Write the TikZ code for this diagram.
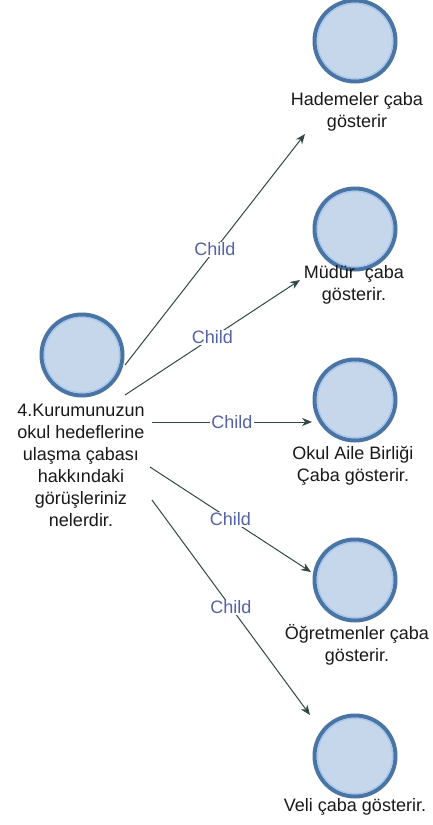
\documentclass[tikz,border=0pt]{standalone}
\usepackage{fontspec}
\setmainfont{Liberation Sans}
\usetikzlibrary{arrows.meta}
\definecolor{ringdark}{RGB}{74,116,164}
\definecolor{ringlight}{RGB}{165,199,236}
\definecolor{bubblefill}{RGB}{198,214,235}
\definecolor{edgecol}{RGB}{48,72,68}
\definecolor{labelcol}{RGB}{84,98,168}
\begin{document}
\begin{tikzpicture}[x=1pt,y=-1pt,
  bubble/.style={circle, draw=ringdark, line width=4pt, fill=bubblefill,
    minimum size=81pt, inner sep=0pt},
  innerring/.style={draw=ringlight, line width=1.2pt},
  caption/.style={align=center, font=\fontsize{18}{22}\selectfont,
    text=black!90, inner sep=0pt},
  link/.style={draw=edgecol, line width=1pt, -{Stealth[length=10pt,width=8pt]}},
  tag/.style={fill=white, text=labelcol, font=\fontsize{18}{22}\selectfont,
    inner sep=1pt}]

  % canvas
  \fill[white] (0,0) rectangle (433,825);
  \useasboundingbox (0,0) rectangle (433,825);

  % bubbles
  \node[bubble] (root) at (82,355) {};
  \node[bubble] (hade) at (355,41) {};
  \node[bubble] (mudur) at (355,229) {};
  \node[bubble] (okul) at (355,400) {};
  \node[bubble] (ogret) at (355,580) {};
  \node[bubble] (veli) at (355,756) {};
  \foreach \n in {root,hade,mudur,okul,ogret,veli}
    \draw[innerring] (\n.center) circle (37.6pt);

  % captions
  \node[caption] (roottxt) at (81,465) {4.Kurumunuzun\\okul hedeflerine\\ulaşma çabası\\hakkındaki\\görüşleriniz\\nelerdir.};
  \node[caption] (hadetxt) at (357,112) {Hademeler çaba\\gösterir};
  \node[caption] (mudurtxt) at (354,285) {Müdür\ \ çaba\\gösterir.};
  \node[caption] (okultxt) at (353,466) {Okul Aile Birliği\\Çaba gösterir.};
  \node[caption] (ogrettxt) at (357,645) {Öğretmenler çaba\\gösterir.};
  \node[caption] (velitxt) at (355,807) {Veli çaba gösterir.};

  % connector ends
  \coordinate (s1) at (125,365);
  \coordinate (s2) at (125,395);
  \coordinate (s3) at (152,422);
  \coordinate (s4) at (150,467);
  \coordinate (s5) at (152,500);
  \coordinate (t1) at (305,134);
  \coordinate (t2) at (300,280);
  \coordinate (t3) at (312,422);
  \coordinate (t4) at (311,572);
  \coordinate (t5) at (310,715);

  % connectors
  \draw[link] (s1) -- node[tag] {Child} (t1);
  \draw[link] (s2) -- node[tag] {Child} (t2);
  \draw[link] (s3) -- node[tag] {Child} (t3);
  \draw[link] (s4) -- node[tag] {Child} (t4);
  \draw[link] (s5) -- node[tag] {Child} (t5);
\end{tikzpicture}
\end{document}
